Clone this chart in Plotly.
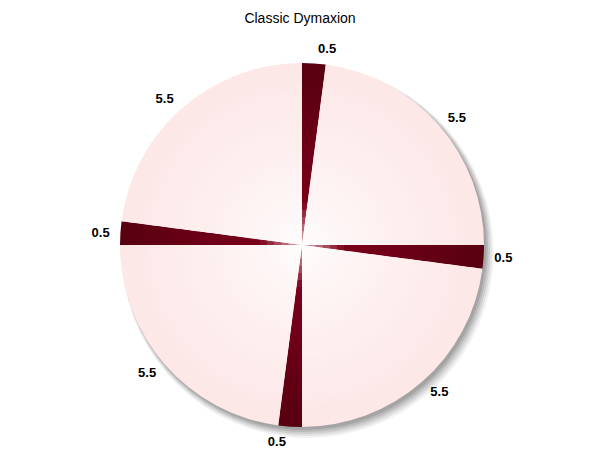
import plotly.graph_objects as go

values = [0.5, 5.5, 0.5, 5.5, 0.5, 5.5, 0.5, 5.5]
labels = ["A", "B", "C", "D", "E", "F", "G", "H"]
title = "Classic Dymaxion"

W, H = 600, 463
cx, cy, R = 302, 245, 182

def dom(r, dx=0, dy=0):
    x0 = (cx + dx - r) / W; x1 = (cx + dx + r) / W
    y0 = (H - (cy + dy) - r) / H; y1 = (H - (cy + dy) + r) / H
    return dict(x=[x0, x1], y=[y0, y1])

def mix(c1, c2, t):
    return "rgb(%d,%d,%d)" % tuple(round(a + (b - a) * t) for a, b in zip(c1, c2))

def common():
    return dict(values=values, labels=labels, sort=False, direction="clockwise",
                rotation=0, showlegend=False, hoverinfo="skip", textposition="none")

fig = go.Figure()

# soft shadow
for off, extra, op in [(7, 4, 0.07), (6, 3, 0.10), (5, 2, 0.13), (4, 1, 0.17), (3, 0, 0.20)]:
    fig.add_trace(go.Pie(**common(), domain=dom(R + extra, off * 0.8, off),
                         opacity=op,
                         marker=dict(colors=["#555555"] * 8, line=dict(width=0))))

# radial gradient layers
N = 26
light_edge = (253, 231, 231)
white = (255, 255, 255)
dark_edge = (88, 0, 16)
dark_mid = (122, 0, 26)
for i in range(N):
    t = 1 - i / N  # relative radius
    lc = mix(white, light_edge, t ** 0.7)
    if t > 0.25:
        dc = mix(dark_mid, dark_edge, (t - 0.25) / 0.75)
    else:
        dc = mix((235, 190, 195), dark_mid, t / 0.25)
    fig.add_trace(go.Pie(**common(), domain=dom(R * t),
                         marker=dict(colors=[dc, lc] * 4, line=dict(width=0))))

# labels
lab = common()
lab.update(textposition="outside", texttemplate="%{value}")
fig.add_trace(go.Pie(**lab, domain=dom(R + 7),
                     marker=dict(colors=["rgba(0,0,0,0)"] * 8, line=dict(width=0)),
                     textfont=dict(family="Arial", size=13, color="black", weight="bold")))

fig.update_layout(width=W, height=H, margin=dict(l=0, r=0, t=0, b=0),
                  title=dict(text=title, x=0.5, y=1 - 18 / H, xanchor="center", yanchor="middle",
                             font=dict(family="Arial", size=14, color="black")),
                  paper_bgcolor="white")
fig.write_html("out.html", config={"displayModeBar": False},
               post_script="document.body.style.margin='0';")
